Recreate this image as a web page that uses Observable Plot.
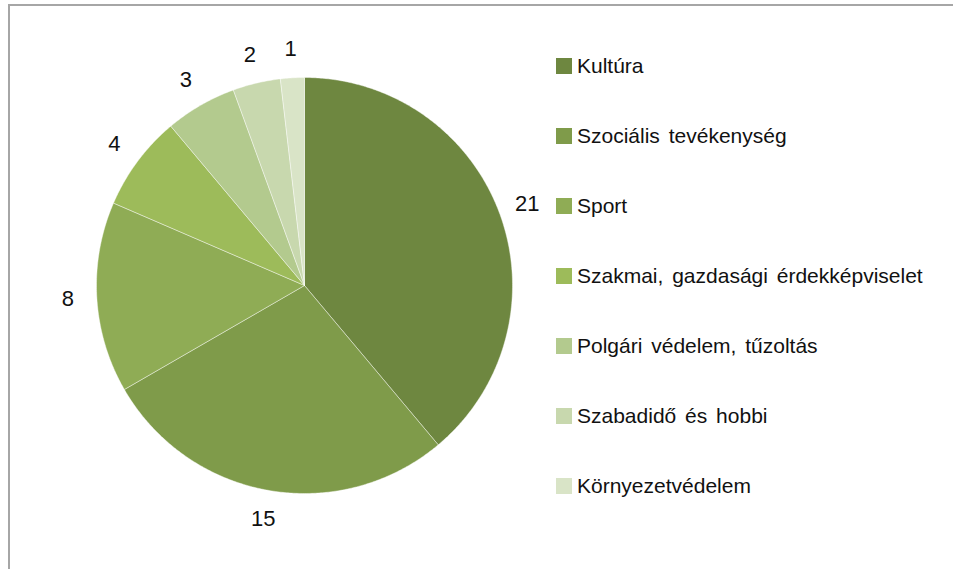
<!DOCTYPE html>
<html>
<head>
<meta charset="utf-8">
<script src="https://cdn.jsdelivr.net/npm/d3@7"></script>
<script src="https://cdn.jsdelivr.net/npm/@observablehq/plot@0.6"></script>
<style>
  html, body { margin: 0; padding: 0; background: #fff; }
  #wrap { position: relative; width: 953px; height: 569px; overflow: hidden; font-family: "Liberation Sans", Arial, sans-serif; }
  #frame { position: absolute; left: 8px; top: 4px; width: 960px; height: 580px; border-left: 2px solid #a6a6a6; border-top: 2px solid #a6a6a6; }
  #chart { position: absolute; left: 0; top: 0; }
  #legend { position: absolute; left: 556px; top: 0; }
  .item { position: absolute; left: 0; white-space: nowrap; font-size: 21px; color: #111; display: flex; align-items: center; }
  .sw { width: 16px; height: 16px; margin-right: 5px; display: inline-block; }
  .item span.t { word-spacing: 3px; }
</style>
</head>
<body>
<div id="wrap">
  <div id="frame"></div>
  <div id="chart"></div>
  <div id="legend"></div>
</div>
<script>
const categories = [
  "Kultúra",
  "Szociális tevékenység",
  "Sport",
  "Szakmai, gazdasági érdekképviselet",
  "Polgári védelem, tűzoltás",
  "Szabadidő és hobbi",
  "Környezetvédelem"
];
const values = [21, 15, 8, 4, 3, 2, 1];
const colors = ["#6e8740", "#7f9b4a", "#8fac55", "#9dbb5a", "#b3ca8e", "#c8d8ae", "#d9e4c7"];

const total = d3.sum(values);
const slices = [];
let cum = 0;
categories.forEach((c, i) => {
  const a0 = cum / total * 2 * Math.PI;
  cum += values[i];
  const a1 = cum / total * 2 * Math.PI;
  slices.push({cat: c, value: values[i], a0, a1, mid: (a0 + a1) / 2});
});

// polygon points for each slice (clockwise from top)
const pts = [];
slices.forEach(s => {
  pts.push({cat: s.cat, x: 0, y: 0});
  const n = Math.max(2, Math.ceil((s.a1 - s.a0) / (Math.PI / 360)));
  for (let k = 0; k <= n; k++) {
    const a = s.a0 + (s.a1 - s.a0) * k / n;
    pts.push({cat: s.cat, x: Math.sin(a), y: Math.cos(a)});
  }
  pts.push({cat: s.cat, x: 0, y: 0});
});

const labelR = 1.14;
const labels = slices.map(s => ({cat: s.cat, text: String(s.value), x: labelR * Math.sin(s.mid), y: labelR * Math.cos(s.mid)}));

const plot = Plot.plot({
  width: 953,
  height: 569,
  margin: 0,
  x: {domain: [-1, 1], range: [96, 512], axis: null},
  y: {domain: [-1, 1], range: [493, 77], axis: null},
  color: {domain: categories, range: colors},
  style: {fontFamily: "Liberation Sans, Arial, sans-serif", background: "transparent"},
  marks: [
    Plot.line(pts, {x: "x", y: "y", z: "cat", fill: "cat", stroke: "#ffffff", strokeWidth: 0.6, strokeOpacity: 0.7, curve: "linear"}),
    Plot.text(labels, {x: "x", y: "y", text: "text", fontSize: 22, fill: "#111"})
  ]
});
document.getElementById("chart").appendChild(plot);

const legend = document.getElementById("legend");
categories.forEach((c, i) => {
  const div = document.createElement("div");
  div.className = "item";
  div.style.top = (54 + i * 70) + "px";
  const sw = document.createElement("span");
  sw.className = "sw";
  sw.style.background = colors[i];
  const t = document.createElement("span");
  t.className = "t";
  t.textContent = c;
  div.appendChild(sw);
  div.appendChild(t);
  legend.appendChild(div);
});
</script>
</body>
</html>
